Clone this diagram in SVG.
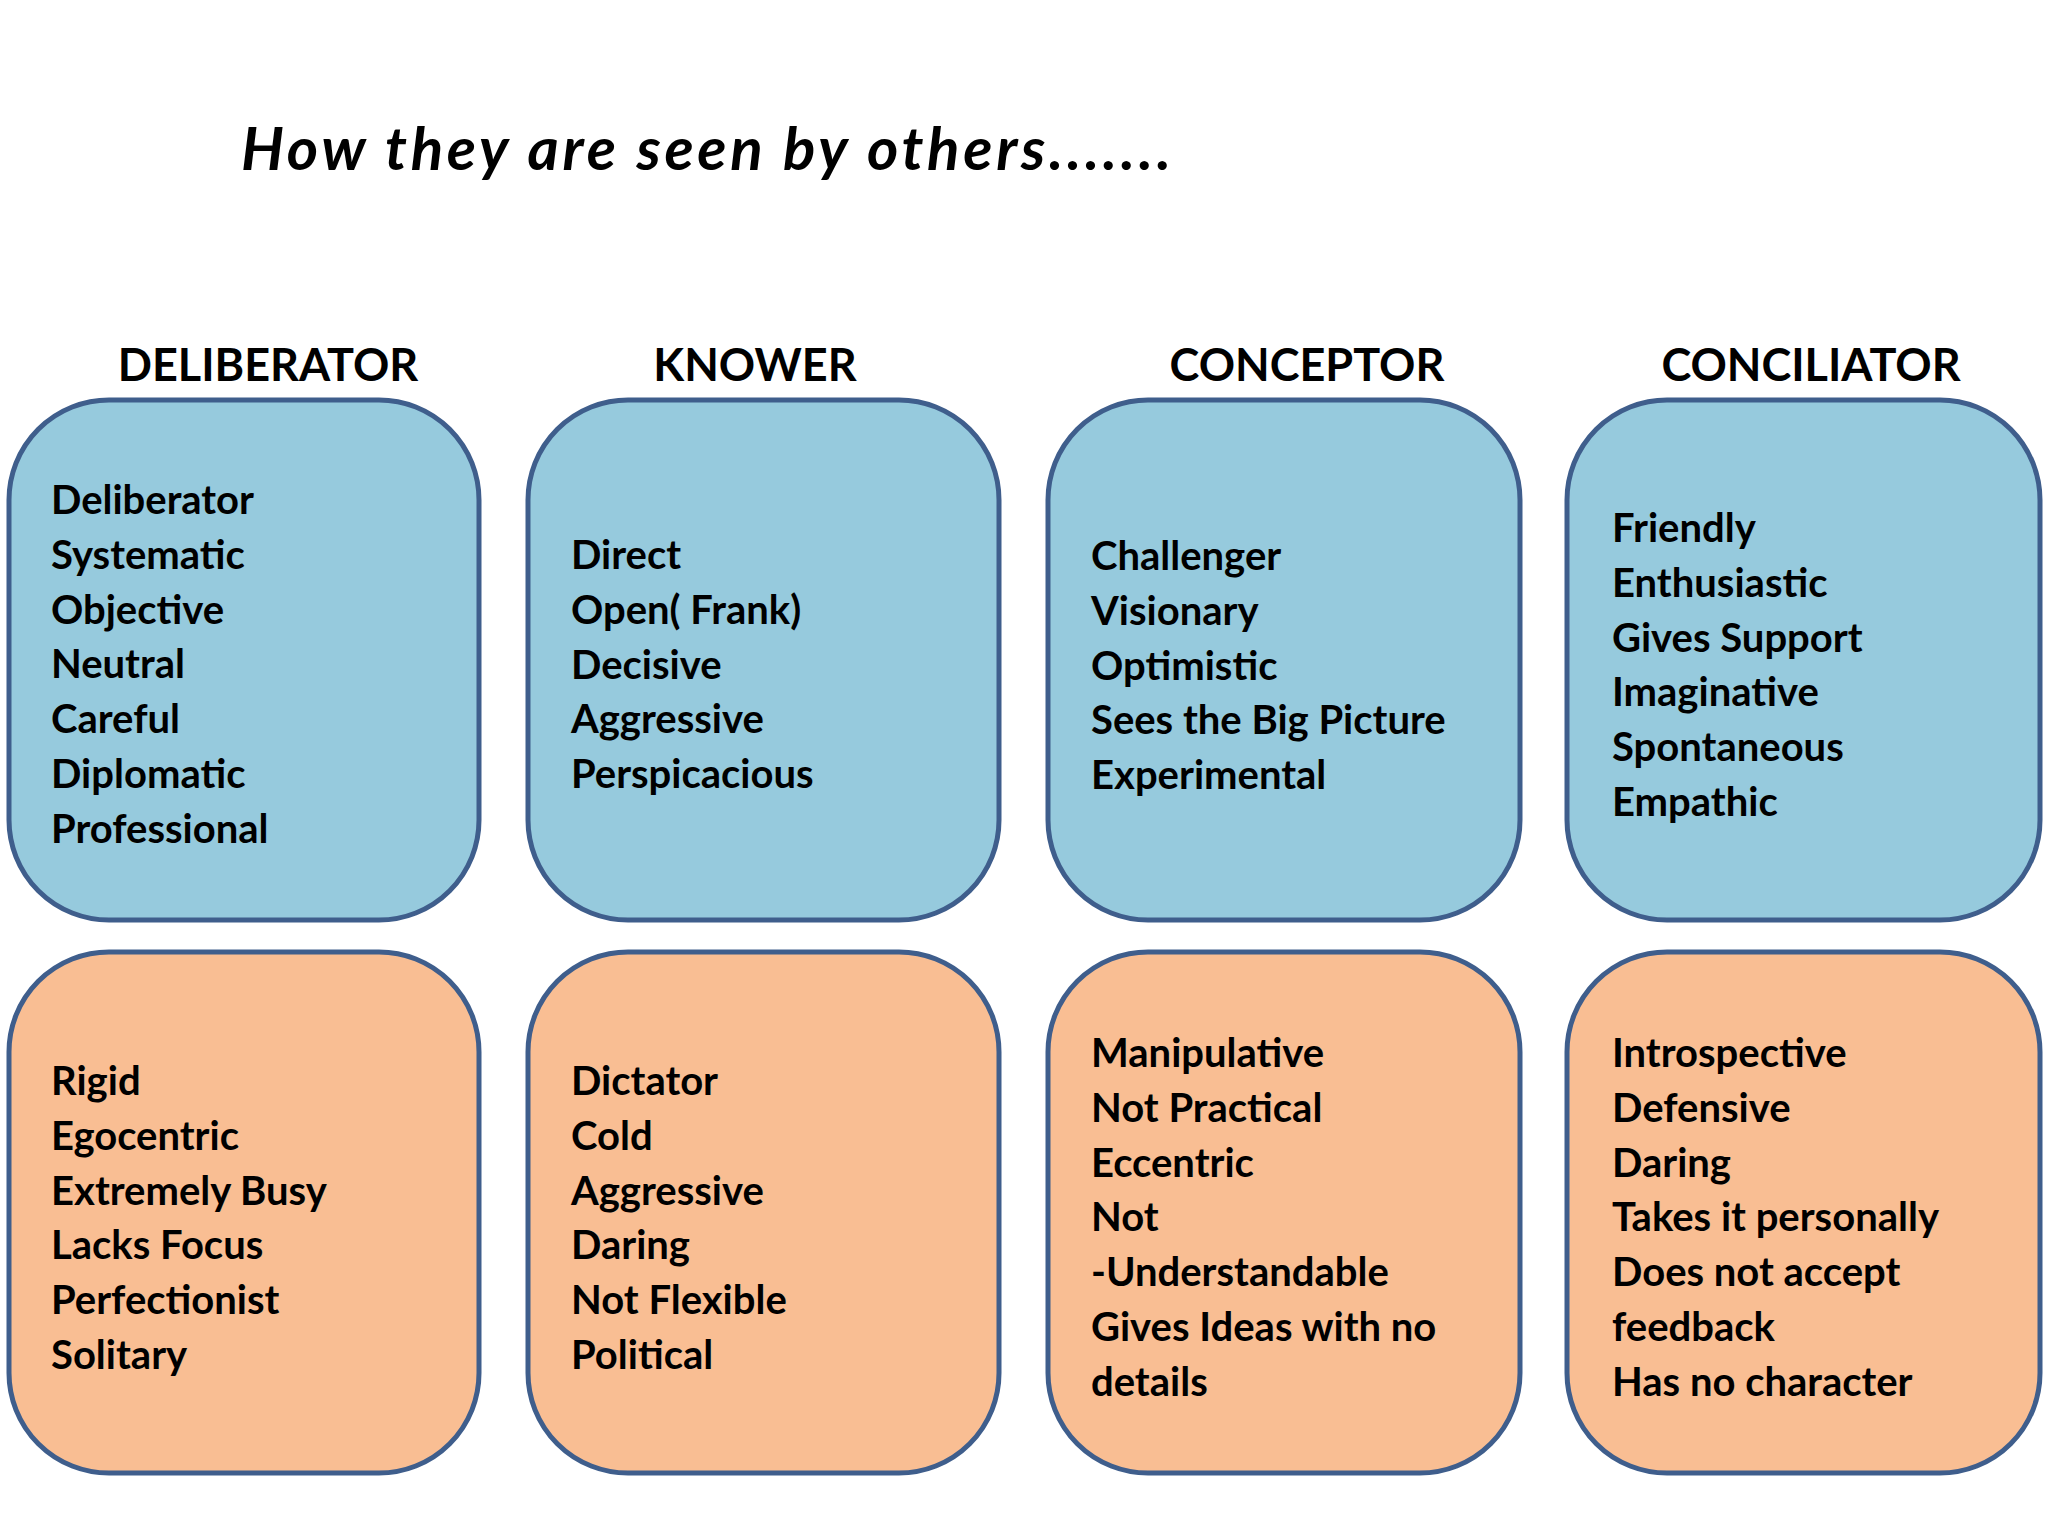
<svg xmlns="http://www.w3.org/2000/svg" width="2048" height="1536" viewBox="0 0 2048 1536">
<style>
.b{stroke:#3F5E8C;stroke-width:5}
.blue{fill:#96CADD}
.or{fill:#F9BE93}
text{font-family:Lato,"Liberation Sans",sans-serif;font-weight:bold;fill:#000}
.t{font-size:40px}
.h{font-size:45px;text-anchor:middle}
</style>
<rect width="2048" height="1536" fill="#fff"/>
<text x="241" y="170" font-size="60" font-style="italic" textLength="930">How they are seen by others.......</text>
<text class="h" x="268" y="381">DELIBERATOR</text>
<text class="h" x="755" y="381">KNOWER</text>
<text class="h" x="1307" y="381">CONCEPTOR</text>
<text class="h" x="1811" y="381">CONCILIATOR</text>
<g id="n1"><rect class="b blue" x="9" y="400" width="470" height="520" rx="100"/>
<text class="t" x="51" y="514"><tspan x="51">Deliberator</tspan><tspan x="51" dy="54.8">Systematic</tspan><tspan x="51" dy="54.8">Objective</tspan><tspan x="51" dy="54.8">Neutral</tspan><tspan x="51" dy="54.8">Careful</tspan><tspan x="51" dy="54.8">Diplomatic</tspan><tspan x="51" dy="54.8">Professional</tspan></text></g>
<g id="n2"><rect class="b blue" x="528" y="400" width="471" height="520" rx="100"/>
<text class="t" x="571" y="569"><tspan x="571">Direct</tspan><tspan x="571" dy="54.8">Open( Frank)</tspan><tspan x="571" dy="54.8">Decisive</tspan><tspan x="571" dy="54.8">Aggressive</tspan><tspan x="571" dy="54.8">Perspicacious</tspan></text></g>
<g id="n3"><rect class="b blue" x="1048" y="400" width="472" height="520" rx="100"/>
<text class="t" x="1091" y="570"><tspan x="1091">Challenger</tspan><tspan x="1091" dy="54.8">Visionary</tspan><tspan x="1091" dy="54.8">Optimistic</tspan><tspan x="1091" dy="54.8">Sees the Big Picture</tspan><tspan x="1091" dy="54.8">Experimental</tspan></text></g>
<g id="n4"><rect class="b blue" x="1567" y="400" width="473" height="520" rx="100"/>
<text class="t" x="1612" y="542"><tspan x="1612">Friendly</tspan><tspan x="1612" dy="54.8">Enthusiastic</tspan><tspan x="1612" dy="54.8">Gives Support</tspan><tspan x="1612" dy="54.8">Imaginative</tspan><tspan x="1612" dy="54.8">Spontaneous</tspan><tspan x="1612" dy="54.8">Empathic</tspan></text></g>
<g id="n5"><rect class="b or" x="9" y="952" width="470" height="521" rx="100"/>
<text class="t" x="51" y="1095"><tspan x="51">Rigid</tspan><tspan x="51" dy="54.8">Egocentric</tspan><tspan x="51" dy="54.8">Extremely Busy</tspan><tspan x="51" dy="54.8">Lacks Focus</tspan><tspan x="51" dy="54.8">Perfectionist</tspan><tspan x="51" dy="54.8">Solitary</tspan></text></g>
<g id="n6"><rect class="b or" x="528" y="952" width="471" height="521" rx="100"/>
<text class="t" x="571" y="1095"><tspan x="571">Dictator</tspan><tspan x="571" dy="54.8">Cold</tspan><tspan x="571" dy="54.8">Aggressive</tspan><tspan x="571" dy="54.8">Daring</tspan><tspan x="571" dy="54.8">Not Flexible</tspan><tspan x="571" dy="54.8">Political</tspan></text></g>
<g id="n7"><rect class="b or" x="1048" y="952" width="472" height="521" rx="100"/>
<text class="t" x="1091" y="1067"><tspan x="1091">Manipulative</tspan><tspan x="1091" dy="54.8">Not Practical</tspan><tspan x="1091" dy="54.8">Eccentric</tspan><tspan x="1091" dy="54.8">Not</tspan><tspan x="1091" dy="54.8">-Understandable</tspan><tspan x="1091" dy="54.8">Gives Ideas with no</tspan><tspan x="1091" dy="54.8">details</tspan></text></g>
<g id="n8"><rect class="b or" x="1567" y="952" width="473" height="521" rx="100"/>
<text class="t" x="1612" y="1067"><tspan x="1612">Introspective</tspan><tspan x="1612" dy="54.8">Defensive</tspan><tspan x="1612" dy="54.8">Daring</tspan><tspan x="1612" dy="54.8">Takes it personally</tspan><tspan x="1612" dy="54.8">Does not accept</tspan><tspan x="1612" dy="54.8">feedback</tspan><tspan x="1612" dy="54.8">Has no character</tspan></text></g>
<g id="connectors"/>
</svg>
